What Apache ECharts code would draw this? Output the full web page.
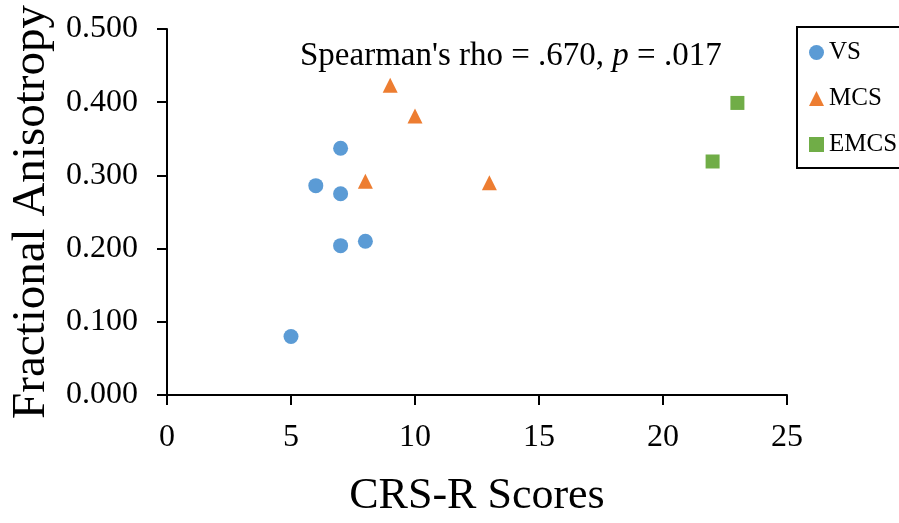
<!DOCTYPE html>
<html>
<head>
<meta charset="utf-8">
<script src="https://cdn.jsdelivr.net/npm/echarts@6/dist/echarts.min.js"></script>
<style>
  html, body { margin: 0; padding: 0; background: #ffffff; overflow: hidden; }
  #chart { width: 899px; height: 523px; }
</style>
</head>
<body>
<div id="chart"></div>
<script>
// ---- data ----
const seriesNames = ['VS', 'MCS', 'EMCS'];
const vsX   = [5, 6, 7, 7, 7, 8];
const vsY   = [0.080, 0.286, 0.337, 0.275, 0.204, 0.210];
const mcsX  = [9, 10, 8, 13];
const mcsY  = [0.423, 0.381, 0.292, 0.290];
const emcsX = [22, 23];
const emcsY = [0.319, 0.399];
const xTicks = [0, 5, 10, 15, 20, 25];
const yTicks = [0, 0.1, 0.2, 0.3, 0.4, 0.5];
const annotation = "Spearman's rho = .670, {i|p} = .017";

const FONT = "'Liberation Serif', 'Times New Roman', serif";
const pairs = (xs, ys) => xs.map((x, i) => [x, ys[i]]);

const chart = echarts.init(document.getElementById('chart'), null, { renderer: 'canvas' });
chart.setOption({
  backgroundColor: '#ffffff',
  animation: false,
  title: {
    text: annotation,
    left: 300,
    top: 40,
    padding: 0,
    textStyle: {
      fontFamily: FONT, fontSize: 33, fontWeight: 'normal', color: '#000',
      rich: { i: { fontFamily: FONT, fontSize: 33, fontStyle: 'italic', color: '#000' } }
    }
  },
  grid: { left: 167, width: 620, top: 29, height: 375, containLabel: false },
  legend: {
    orient: 'vertical',
    left: 797,
    top: 27,
    padding: [13, 20, 11, 12],
    itemWidth: 15,
    itemHeight: 15,
    itemGap: 21,
    borderColor: '#000',
    borderWidth: 2,
    textStyle: { fontFamily: FONT, fontSize: 25, color: '#000', lineHeight: 25 },
    data: [
      { name: seriesNames[0], icon: 'circle' },
      { name: seriesNames[1], icon: 'triangle' },
      { name: seriesNames[2], icon: 'rect' }
    ]
  },
  xAxis: {
    type: 'value',
    min: xTicks[0],
    max: xTicks[xTicks.length - 1],
    interval: xTicks[1] - xTicks[0],
    name: 'CRS-R Scores',
    nameLocation: 'middle',
    nameGap: 79,
    nameTextStyle: { fontFamily: FONT, fontSize: 44, color: '#000' },
    axisLine: { show: true, onZero: false, lineStyle: { color: '#000', width: 2 } },
    axisTick: { show: true, inside: false, length: 10, lineStyle: { color: '#000', width: 2 } },
    axisLabel: { margin: 27, fontFamily: FONT, fontSize: 32, color: '#000' },
    splitLine: { show: false }
  },
  yAxis: {
    type: 'value',
    min: yTicks[0],
    max: yTicks[yTicks.length - 1],
    interval: yTicks[1] - yTicks[0],
    name: 'Fractional Anisotropy',
    nameLocation: 'middle',
    nameGap: 110,
    nameTextStyle: { fontFamily: FONT, fontSize: 47, color: '#000' },
    axisLine: { show: true, lineStyle: { color: '#000', width: 2 } },
    axisTick: { show: true, inside: false, length: 10, lineStyle: { color: '#000', width: 2 } },
    axisLabel: {
      margin: 29, fontFamily: FONT, fontSize: 32, color: '#000',
      formatter: v => v.toFixed(3)
    },
    splitLine: { show: false }
  },
  series: [
    { name: seriesNames[0], type: 'scatter', symbol: 'circle', symbolSize: 15,
      itemStyle: { color: '#5B9BD5', opacity: 1 }, data: pairs(vsX, vsY) },
    { name: seriesNames[1], type: 'scatter', symbol: 'triangle', symbolSize: 15,
      itemStyle: { color: '#ED7D31', opacity: 1 }, data: pairs(mcsX, mcsY) },
    { name: seriesNames[2], type: 'scatter', symbol: 'rect', symbolSize: 14,
      itemStyle: { color: '#70AD47', opacity: 1 }, data: pairs(emcsX, emcsY) }
  ]
});
</script>
</body>
</html>
